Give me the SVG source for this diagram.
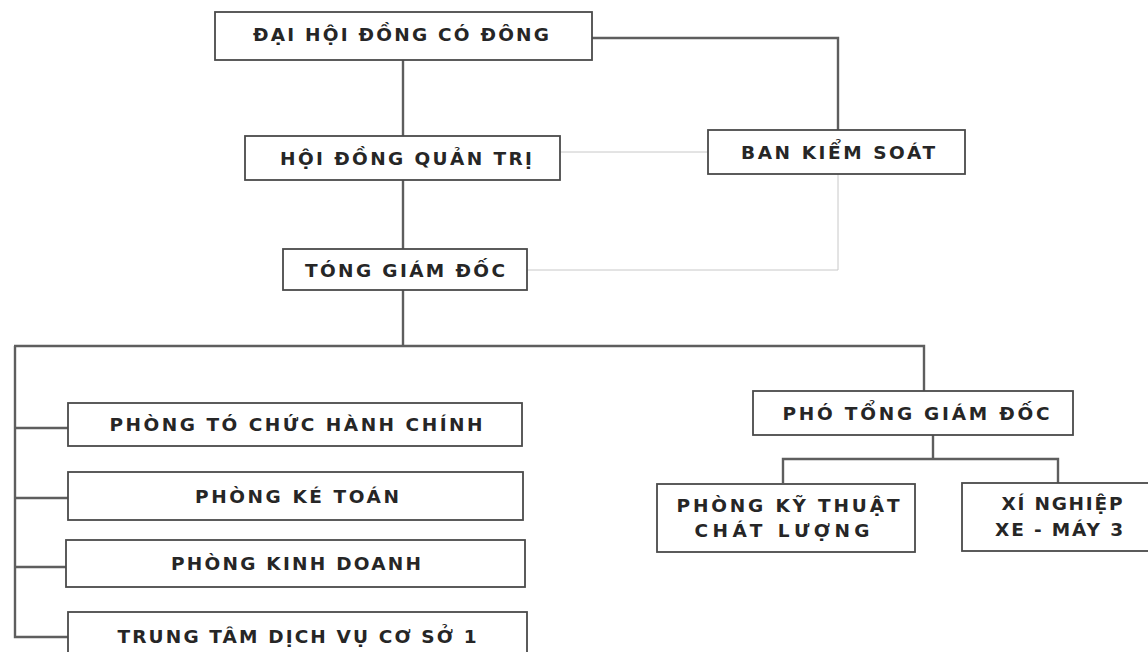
<svg xmlns="http://www.w3.org/2000/svg" width="1148" height="652" viewBox="0 0 1148 652">
<style>
.box{fill:#fff;stroke:#4a4a4a;stroke-width:1.8}
.t{font-family:"DejaVu Sans","Liberation Sans",Arial,sans-serif;font-weight:bold;font-size:18.5px;fill:#262626;text-anchor:middle}
.c{fill:none;stroke:#5e5e5e;stroke-width:2.4}
.l{fill:none;stroke:#c8c8c8;stroke-width:1}
</style>
<rect width="1148" height="652" fill="#fff"/>
<g id="connectors">
<path class="c" d="M592 38 H838 V130"/>
<path class="c" d="M403 60 V137"/>
<path class="l" d="M560 152 H708"/>
<path class="c" d="M403 180 V249"/>
<path class="l" d="M527 270 H838 V174"/>
<path class="c" d="M403 290 V346"/>
<path class="c" d="M14 346 H924 V392"/>
<path class="c" d="M15 346 V637 H68"/>
<path class="c" d="M15 428 H68"/>
<path class="c" d="M15 498 H68"/>
<path class="c" d="M15 567 H66"/>
<path class="c" d="M933 435 V459"/>
<path class="c" d="M783 483 V459 H1058 V483"/>
</g>
<g id="dhdcd"><rect class="box" x="215" y="12" width="377" height="48"/><text class="t" x="401" y="41" textLength="296" lengthAdjust="spacing">ĐẠI HỘI ĐỒNG CÓ ĐÔNG</text></g>
<g id="hdqt"><rect class="box" x="245" y="136" width="315" height="44"/><text class="t" x="406" y="165" textLength="252" lengthAdjust="spacing">HỘI ĐỒNG QUẢN TRỊ</text></g>
<g id="bks"><rect class="box" x="708" y="130" width="257" height="44"/><text class="t" x="838" y="159" textLength="194" lengthAdjust="spacing">BAN KIỂM SOÁT</text></g>
<g id="tgd"><rect class="box" x="283" y="249" width="244" height="41"/><text class="t" x="405" y="277" textLength="200" lengthAdjust="spacing">TÓNG GIÁM ĐỐC</text></g>
<g id="ptchc"><rect class="box" x="68" y="403" width="454" height="43"/><text class="t" x="296" y="431" textLength="373" lengthAdjust="spacing">PHÒNG TÓ CHỨC HÀNH CHÍNH</text></g>
<g id="pkt"><rect class="box" x="68" y="472" width="455" height="48"/><text class="t" x="297" y="503" textLength="204" lengthAdjust="spacing">PHÒNG KÉ TOÁN</text></g>
<g id="pkd"><rect class="box" x="66" y="540" width="459" height="47"/><text class="t" x="296" y="570" textLength="250" lengthAdjust="spacing">PHÒNG KINH DOANH</text></g>
<g id="ttdv"><rect class="box" x="68" y="612" width="459" height="46"/><text class="t" x="297" y="643" textLength="359" lengthAdjust="spacing">TRUNG TÂM DỊCH VỤ CƠ SỞ 1</text></g>
<g id="ptgd"><rect class="box" x="753" y="391" width="320" height="44"/><text class="t" x="916" y="420" textLength="267" lengthAdjust="spacing">PHÓ TỔNG GIÁM ĐỐC</text></g>
<g id="pktcl"><rect class="box" x="657" y="484" width="258" height="68"/><text class="t" x="788" y="512" textLength="223" lengthAdjust="spacing">PHÒNG KỸ THUẬT</text><text class="t" x="782" y="537" textLength="175" lengthAdjust="spacing">CHÁT LƯỢNG</text></g>
<g id="xn"><rect class="box" x="962" y="483" width="190" height="68"/><text class="t" x="1062" y="510" textLength="121" lengthAdjust="spacing">XÍ NGHIỆP</text><text class="t" x="1059" y="536" textLength="128" lengthAdjust="spacing">XE - MÁY 3</text></g>
</svg>
